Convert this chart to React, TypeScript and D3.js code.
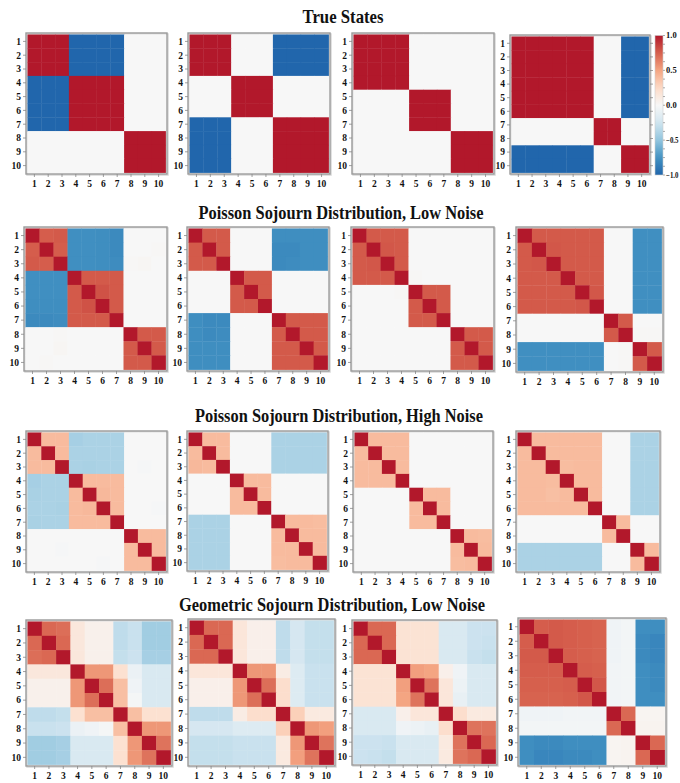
import React from "react";
import * as d3 from "d3";

// ---- data -------------------------------------------------------------

const stateLabels = ["1", "2", "3", "4", "5", "6", "7", "8", "9", "10"];

const rowTitles = [
  "True States",
  "Poisson Sojourn Distribution, Low Noise",
  "Poisson Sojourn Distribution, High Noise",
  "Geometric Sojourn Distribution, Low Noise",
];

const colorbarTicks = [1.0, 0.5, 0.0, -0.5, -1.0];

// True state correlation structures
const trueA = [
  [1, 1, 1, -1, -1, -1, -1, 0, 0, 0],
  [1, 1, 1, -1, -1, -1, -1, 0, 0, 0],
  [1, 1, 1, -1, -1, -1, -1, 0, 0, 0],
  [-1, -1, -1, 1, 1, 1, 1, 0, 0, 0],
  [-1, -1, -1, 1, 1, 1, 1, 0, 0, 0],
  [-1, -1, -1, 1, 1, 1, 1, 0, 0, 0],
  [-1, -1, -1, 1, 1, 1, 1, 0, 0, 0],
  [0, 0, 0, 0, 0, 0, 0, 1, 1, 1],
  [0, 0, 0, 0, 0, 0, 0, 1, 1, 1],
  [0, 0, 0, 0, 0, 0, 0, 1, 1, 1],
];
const trueB = [
  [1, 1, 1, 0, 0, 0, -1, -1, -1, -1],
  [1, 1, 1, 0, 0, 0, -1, -1, -1, -1],
  [1, 1, 1, 0, 0, 0, -1, -1, -1, -1],
  [0, 0, 0, 1, 1, 1, 0, 0, 0, 0],
  [0, 0, 0, 1, 1, 1, 0, 0, 0, 0],
  [0, 0, 0, 1, 1, 1, 0, 0, 0, 0],
  [-1, -1, -1, 0, 0, 0, 1, 1, 1, 1],
  [-1, -1, -1, 0, 0, 0, 1, 1, 1, 1],
  [-1, -1, -1, 0, 0, 0, 1, 1, 1, 1],
  [-1, -1, -1, 0, 0, 0, 1, 1, 1, 1],
];
const trueC = [
  [1, 1, 1, 1, 0, 0, 0, 0, 0, 0],
  [1, 1, 1, 1, 0, 0, 0, 0, 0, 0],
  [1, 1, 1, 1, 0, 0, 0, 0, 0, 0],
  [1, 1, 1, 1, 0, 0, 0, 0, 0, 0],
  [0, 0, 0, 0, 1, 1, 1, 0, 0, 0],
  [0, 0, 0, 0, 1, 1, 1, 0, 0, 0],
  [0, 0, 0, 0, 1, 1, 1, 0, 0, 0],
  [0, 0, 0, 0, 0, 0, 0, 1, 1, 1],
  [0, 0, 0, 0, 0, 0, 0, 1, 1, 1],
  [0, 0, 0, 0, 0, 0, 0, 1, 1, 1],
];
const trueD = [
  [1, 1, 1, 1, 1, 1, 0, 0, -1, -1],
  [1, 1, 1, 1, 1, 1, 0, 0, -1, -1],
  [1, 1, 1, 1, 1, 1, 0, 0, -1, -1],
  [1, 1, 1, 1, 1, 1, 0, 0, -1, -1],
  [1, 1, 1, 1, 1, 1, 0, 0, -1, -1],
  [1, 1, 1, 1, 1, 1, 0, 0, -1, -1],
  [0, 0, 0, 0, 0, 0, 1, 1, 0, 0],
  [0, 0, 0, 0, 0, 0, 1, 1, 0, 0],
  [-1, -1, -1, -1, -1, -1, 0, 0, 1, 1],
  [-1, -1, -1, -1, -1, -1, 0, 0, 1, 1],
];

// Poisson sojourn, low noise estimates
const poissonLowA = [
  [1, 0.76, 0.77, -0.77, -0.77, -0.78, -0.8, 0, 0, 0],
  [0.76, 1, 0.76, -0.77, -0.77, -0.78, -0.8, 0, 0, 0.01],
  [0.77, 0.76, 1, -0.77, -0.77, -0.78, -0.79, 0.01, 0.02, 0],
  [-0.77, -0.77, -0.77, 1, 0.77, 0.77, 0.77, 0, 0, 0],
  [-0.77, -0.77, -0.77, 0.77, 1, 0.8, 0.77, 0, 0, 0],
  [-0.78, -0.78, -0.78, 0.77, 0.8, 1, 0.77, 0, 0, 0],
  [-0.8, -0.8, -0.79, 0.77, 0.77, 0.77, 1, 0, 0, 0],
  [0, 0, 0.01, 0, 0, 0, 0, 1, 0.77, 0.77],
  [0, 0, 0.02, 0, 0, 0, 0, 0.77, 1, 0.77],
  [0, 0.01, 0, 0, 0, 0, 0, 0.77, 0.77, 1],
];
const poissonLowB = [
  [1, 0.77, 0.77, 0, 0, 0, -0.78, -0.78, -0.78, -0.78],
  [0.77, 1, 0.77, 0, 0, 0, -0.8, -0.8, -0.78, -0.78],
  [0.77, 0.77, 1, 0, 0, 0, -0.8, -0.79, -0.78, -0.78],
  [0, 0, 0, 1, 0.77, 0.77, 0, 0, 0, 0],
  [0, 0, 0, 0.77, 1, 0.77, 0, 0, 0, 0],
  [0, 0, 0, 0.77, 0.77, 1, 0, 0, 0, 0],
  [-0.78, -0.8, -0.8, 0, 0, 0, 1, 0.77, 0.77, 0.77],
  [-0.78, -0.8, -0.79, 0, 0, 0, 0.77, 1, 0.77, 0.77],
  [-0.78, -0.78, -0.78, 0, 0, 0, 0.77, 0.77, 1, 0.77],
  [-0.78, -0.78, -0.78, 0, 0, 0, 0.77, 0.77, 0.77, 1],
];
const poissonLowC = [
  [1, 0.77, 0.77, 0.77, 0, 0, 0, 0, 0, 0],
  [0.77, 1, 0.78, 0.77, 0, 0, 0, 0, 0, 0],
  [0.77, 0.78, 1, 0.77, 0, 0, 0, 0, 0, 0],
  [0.77, 0.77, 0.77, 1, 0.01, 0, 0, 0, 0, 0],
  [0, 0, 0, 0.01, 1, 0.77, 0.77, 0, 0, 0],
  [0, 0, 0, 0, 0.77, 1, 0.77, 0, 0, 0],
  [0, 0, 0, 0, 0.77, 0.77, 1, 0, 0, 0],
  [0, 0, 0, 0, 0, 0, 0, 1, 0.77, 0.77],
  [0, 0, 0, 0, 0, 0, 0, 0.77, 1, 0.77],
  [0, 0, 0, 0, 0, 0, 0, 0.77, 0.77, 1],
];
const poissonLowD = [
  [1, 0.77, 0.77, 0.77, 0.77, 0.77, 0, 0, -0.77, -0.77],
  [0.77, 1, 0.78, 0.77, 0.77, 0.77, 0, 0, -0.77, -0.77],
  [0.77, 0.78, 1, 0.77, 0.77, 0.77, 0, 0, -0.77, -0.77],
  [0.77, 0.77, 0.77, 1, 0.77, 0.77, 0, 0, -0.77, -0.77],
  [0.77, 0.77, 0.77, 0.77, 1, 0.78, 0, 0, -0.77, -0.77],
  [0.77, 0.77, 0.77, 0.77, 0.78, 1, 0, 0, -0.77, -0.77],
  [0, 0, 0, 0, 0, 0, 1, 0.77, 0, 0],
  [0, 0, 0, 0, 0, 0, 0.77, 1, 0.01, 0.01],
  [-0.77, -0.77, -0.77, -0.77, -0.77, -0.77, 0, 0.01, 1, 0.77],
  [-0.77, -0.77, -0.77, -0.77, -0.77, -0.77, 0, 0.01, 0.77, 1],
];

// Poisson sojourn, high noise estimates
const poissonHighA = [
  [1, 0.4, 0.4, -0.42, -0.4, -0.4, -0.4, 0, 0, 0],
  [0.4, 1, 0.4, -0.4, -0.4, -0.4, -0.4, 0, 0, 0],
  [0.4, 0.4, 1, -0.4, -0.41, -0.4, -0.4, 0, -0.01, 0],
  [-0.42, -0.4, -0.4, 1, 0.4, 0.4, 0.4, 0, 0, 0],
  [-0.41, -0.4, -0.4, 0.4, 1, 0.41, 0.4, 0, 0, 0],
  [-0.4, -0.4, -0.41, 0.4, 0.41, 1, 0.4, 0, 0, -0.01],
  [-0.41, -0.4, -0.4, 0.4, 0.4, 0.4, 1, 0, 0, 0],
  [0, 0, 0, 0, 0, 0, 0, 1, 0.4, 0.4],
  [0, 0, -0.01, 0, 0, 0, 0, 0.4, 1, 0.4],
  [0, 0, 0, 0, 0, -0.01, 0, 0.4, 0.4, 1],
];
const poissonHighB = [
  [1, 0.4, 0.4, 0, 0, 0, -0.4, -0.4, -0.4, -0.4],
  [0.4, 1, 0.4, 0, 0, 0, -0.4, -0.4, -0.4, -0.4],
  [0.41, 0.4, 1, 0, 0, 0, -0.4, -0.4, -0.4, -0.4],
  [0, 0, 0, 1, 0.4, 0.4, 0, 0, 0, 0],
  [0, 0, 0, 0.4, 1, 0.4, 0, 0, 0, 0],
  [0, 0, 0, 0.4, 0.4, 1, 0, 0, 0, 0],
  [-0.4, -0.4, -0.4, 0, 0, 0, 1, 0.4, 0.4, 0.39],
  [-0.4, -0.4, -0.4, 0, 0, 0, 0.4, 1, 0.4, 0.4],
  [-0.4, -0.4, -0.4, 0, 0, 0, 0.4, 0.4, 1, 0.4],
  [-0.4, -0.4, -0.4, 0, 0, 0, 0.39, 0.4, 0.4, 1],
];
const poissonHighC = [
  [1, 0.4, 0.4, 0.4, 0, 0, 0, 0, 0, 0],
  [0.4, 1, 0.4, 0.4, 0, 0, 0, 0, 0, 0],
  [0.4, 0.4, 1, 0.4, 0, 0, 0, 0, 0, 0],
  [0.4, 0.4, 0.4, 1, 0, 0, 0, 0, 0, 0],
  [0, 0, 0, 0, 1, 0.4, 0.4, 0, 0, 0],
  [0, 0, 0, 0, 0.4, 1, 0.4, 0, 0, 0],
  [0, 0, 0, 0, 0.4, 0.4, 1, 0, 0, 0],
  [0, 0, 0, 0, 0, 0, 0, 1, 0.4, 0.39],
  [0, 0, 0, 0, 0, 0, 0, 0.4, 1, 0.4],
  [0, 0, 0, 0, 0, 0, 0, 0.39, 0.4, 1],
];
const poissonHighD = [
  [1, 0.4, 0.4, 0.4, 0.4, 0.4, 0, 0, -0.4, -0.4],
  [0.4, 1, 0.4, 0.4, 0.4, 0.4, 0, 0, -0.4, -0.4],
  [0.4, 0.4, 1, 0.39, 0.4, 0.4, 0, 0, -0.4, -0.4],
  [0.4, 0.4, 0.39, 1, 0.4, 0.4, 0, 0, -0.4, -0.4],
  [0.4, 0.4, 0.38, 0.4, 1, 0.4, 0, 0, -0.4, -0.4],
  [0.4, 0.4, 0.4, 0.4, 0.4, 1, 0, 0, -0.4, -0.4],
  [0, 0, 0, 0, 0, 0, 1, 0.4, 0, 0],
  [0, 0, 0, 0, 0, 0, 0.4, 1, 0, 0],
  [-0.4, -0.4, -0.4, -0.4, -0.4, -0.4, 0, 0, 1, 0.4],
  [-0.4, -0.4, -0.4, -0.4, -0.4, -0.4, 0, 0, 0.4, 1],
];

// Geometric sojourn, low noise estimates
const geometricLowA = [
  [1, 0.72, 0.7, 0.14, 0.06, 0.06, -0.32, -0.28, -0.44, -0.44],
  [0.72, 1, 0.72, 0.14, 0.06, 0.06, -0.32, -0.28, -0.44, -0.44],
  [0.7, 0.72, 1, 0.14, 0.06, 0.06, -0.3, -0.27, -0.42, -0.42],
  [0.14, 0.14, 0.14, 1, 0.55, 0.55, 0.2, -0.08, -0.2, -0.2],
  [0.06, 0.06, 0.06, 0.55, 1, 0.7, 0.38, -0.05, -0.2, -0.2],
  [0.06, 0.06, 0.06, 0.55, 0.7, 1, 0.38, -0.02, -0.2, -0.2],
  [-0.32, -0.32, -0.3, 0.2, 0.38, 0.38, 1, 0.38, 0.2, 0.2],
  [-0.28, -0.28, -0.27, -0.08, -0.05, -0.02, 0.38, 1, 0.55, 0.55],
  [-0.44, -0.44, -0.42, -0.2, -0.2, -0.2, 0.2, 0.55, 1, 0.68],
  [-0.44, -0.44, -0.42, -0.2, -0.2, -0.2, 0.2, 0.55, 0.68, 1],
];
const geometricLowB = [
  [1, 0.72, 0.72, 0.15, 0.07, 0.07, -0.32, -0.22, -0.3, -0.3],
  [0.72, 1, 0.72, 0.15, 0.07, 0.07, -0.32, -0.22, -0.3, -0.3],
  [0.72, 0.72, 1, 0.15, 0.07, 0.07, -0.32, -0.22, -0.3, -0.3],
  [0.15, 0.15, 0.15, 1, 0.55, 0.55, 0.1, -0.17, -0.28, -0.28],
  [0.07, 0.07, 0.07, 0.55, 1, 0.7, 0.22, -0.17, -0.28, -0.28],
  [0.07, 0.07, 0.07, 0.55, 0.7, 1, 0.22, -0.17, -0.28, -0.28],
  [-0.32, -0.32, -0.32, 0.1, 0.22, 0.22, 1, 0.3, 0.12, 0.12],
  [-0.22, -0.22, -0.22, -0.17, -0.17, -0.17, 0.3, 1, 0.55, 0.52],
  [-0.3, -0.3, -0.3, -0.28, -0.28, -0.28, 0.12, 0.55, 1, 0.68],
  [-0.3, -0.3, -0.3, -0.28, -0.28, -0.28, 0.12, 0.52, 0.68, 1],
];
const geometricLowC = [
  [1, 0.72, 0.72, 0.18, 0.18, 0.18, -0.2, -0.2, -0.27, -0.27],
  [0.72, 1, 0.72, 0.18, 0.18, 0.18, -0.2, -0.2, -0.27, -0.28],
  [0.72, 0.72, 1, 0.18, 0.18, 0.18, -0.2, -0.2, -0.28, -0.3],
  [0.18, 0.18, 0.18, 1, 0.52, 0.5, 0.07, -0.05, -0.2, -0.2],
  [0.18, 0.18, 0.18, 0.52, 1, 0.68, 0.15, -0.07, -0.2, -0.2],
  [0.18, 0.18, 0.18, 0.5, 0.68, 1, 0.15, -0.1, -0.2, -0.2],
  [-0.2, -0.2, -0.2, 0.07, 0.15, 0.15, 1, 0.22, 0.12, 0.12],
  [-0.2, -0.2, -0.2, -0.05, -0.07, -0.1, 0.22, 1, 0.68, 0.68],
  [-0.27, -0.27, -0.28, -0.2, -0.2, -0.2, 0.12, 0.68, 1, 0.72],
  [-0.27, -0.28, -0.3, -0.2, -0.2, -0.2, 0.12, 0.68, 0.72, 1],
];
const geometricLowD = [
  [1, 0.76, 0.77, 0.76, 0.75, 0.74, -0.05, -0.03, -0.78, -0.78],
  [0.76, 1, 0.77, 0.76, 0.75, 0.74, -0.05, -0.03, -0.8, -0.82],
  [0.77, 0.77, 1, 0.76, 0.75, 0.74, -0.05, -0.03, -0.8, -0.82],
  [0.76, 0.76, 0.76, 1, 0.76, 0.75, -0.04, -0.03, -0.78, -0.8],
  [0.75, 0.75, 0.75, 0.76, 1, 0.78, -0.04, -0.03, -0.78, -0.8],
  [0.74, 0.74, 0.74, 0.75, 0.78, 1, -0.04, -0.03, -0.78, -0.78],
  [-0.05, -0.05, -0.05, -0.04, -0.04, -0.04, 1, 0.72, 0.03, 0.03],
  [-0.03, -0.03, -0.03, -0.03, -0.03, -0.03, 0.72, 1, 0.04, 0.04],
  [-0.78, -0.8, -0.8, -0.78, -0.78, -0.78, 0.03, 0.04, 1, 0.72],
  [-0.78, -0.82, -0.82, -0.8, -0.8, -0.78, 0.03, 0.04, 0.72, 1],
];

const matrixRows = [
  [trueA, trueB, trueC, trueD],
  [poissonLowA, poissonLowB, poissonLowC, poissonLowD],
  [poissonHighA, poissonHighB, poissonHighC, poissonHighD],
  [geometricLowA, geometricLowB, geometricLowC, geometricLowD],
];

// ---- layout -----------------------------------------------------------

type Box = { x0: number; x1: number; y0: number; y1: number };

const rowLayout: { titleX: number; titleY: number; titleW: number; panels: Box[] }[] = [
  {
    titleX: 343, titleY: 22.5, titleW: 81,
    panels: [
      { x0: 26, x1: 167, y0: 33, y1: 174 },
      { x0: 188, x1: 330, y0: 33, y1: 174 },
      { x0: 352, x1: 494, y0: 33, y1: 174 },
      { x0: 510, x1: 650, y0: 35, y1: 174 },
    ],
  },
  {
    titleX: 341, titleY: 219, titleW: 285,
    panels: [
      { x0: 24, x1: 167, y0: 227, y1: 371 },
      { x0: 187, x1: 329, y0: 227, y1: 371 },
      { x0: 351, x1: 494, y0: 227, y1: 371 },
      { x0: 516, x1: 663, y0: 227, y1: 372 },
    ],
  },
  {
    titleX: 339, titleY: 421.5, titleW: 288,
    panels: [
      { x0: 26, x1: 167, y0: 431, y1: 572 },
      { x0: 187, x1: 328, y0: 431, y1: 571 },
      { x0: 353, x1: 493, y0: 431, y1: 572 },
      { x0: 516, x1: 660, y0: 431, y1: 572 },
    ],
  },
  {
    titleX: 332, titleY: 611, titleW: 306,
    panels: [
      { x0: 26, x1: 172, y0: 620, y1: 766 },
      { x0: 188, x1: 335, y0: 619, y1: 766 },
      { x0: 352, x1: 497, y0: 620, y1: 765 },
      { x0: 518, x1: 666, y0: 618, y1: 766 },
    ],
  },
];

const colorbarBox = { x0: 655, x1: 663, y0: 35.5, y1: 175 };

const FONT = "'Liberation Serif', 'Times New Roman', serif";

// Diverging red-blue palette, -1 (blue) .. +1 (red)
const rdbu = d3.schemeRdBu[9].slice().reverse();
const color = d3
  .scaleLinear<string>()
  .domain(d3.range(9).map((i) => -1 + i * 0.25))
  .range(rdbu)
  .interpolate(d3.interpolateRgb)
  .clamp(true);

function Heatmap({ box, matrix, rightTicks }: { box: Box; matrix: number[][]; rightTicks?: boolean }) {
  const inset = 1.5;
  const x = d3.scaleBand<string>().domain(stateLabels).range([box.x0 + inset, box.x1 - inset]);
  const y = d3.scaleBand<string>().domain(stateLabels).range([box.y0 + inset, box.y1 - inset]);
  const bw = x.bandwidth();
  const bh = y.bandwidth();
  return (
    <g>
      <rect
        x={box.x0 + 1}
        y={box.y0 + 1}
        width={box.x1 - box.x0}
        height={box.y1 - box.y0}
        fill="none"
        stroke="#d8d8d8"
        strokeWidth={1.5}
      />
      {matrix.map((row, i) =>
        row.map((v, j) => (
          <rect
            key={`${i}-${j}`}
            x={x(stateLabels[j])!}
            y={y(stateLabels[i])!}
            width={bw + 0.4}
            height={bh + 0.4}
            fill={color(v)}
          />
        ))
      )}
      <rect
        x={box.x0}
        y={box.y0}
        width={box.x1 - box.x0}
        height={box.y1 - box.y0}
        fill="none"
        stroke="#9a9a9a"
        strokeWidth={1.4}
      />
      {stateLabels.map((s) => {
        const cy = y(s)! + bh / 2;
        const cx = x(s)! + bw / 2;
        return (
          <g key={s}>
            <line x1={box.x0 - 3} x2={box.x0} y1={cy} y2={cy} stroke="#888" strokeWidth={0.8} />
            <line x1={cx} x2={cx} y1={box.y1} y2={box.y1 + 3} stroke="#888" strokeWidth={0.8} />
            {rightTicks && (
              <line x1={box.x1} x2={box.x1 + 3} y1={cy} y2={cy} stroke="#888" strokeWidth={0.8} />
            )}
            <text
              x={box.x0 - 5}
              y={cy}
              dy="0.35em"
              textAnchor="end"
              fontFamily={FONT}
              fontWeight="bold"
              fontSize={9.5}
              fill="#111"
            >
              {s}
            </text>
            <text
              x={cx}
              y={box.y1 + 12.5}
              textAnchor="middle"
              fontFamily={FONT}
              fontWeight="bold"
              fontSize={9.5}
              fill="#111"
            >
              {s}
            </text>
          </g>
        );
      })}
    </g>
  );
}

function Colorbar() {
  const { x0, x1, y0, y1 } = colorbarBox;
  const scale = d3.scaleLinear().domain([-1, 1]).range([y1, y0]);
  const stops = d3.range(0, 1.0001, 0.05);
  return (
    <g>
      <defs>
        <linearGradient id="cbar" x1="0" y1="1" x2="0" y2="0">
          {stops.map((t) => (
            <stop key={t} offset={t} stopColor={color(-1 + 2 * t)} />
          ))}
        </linearGradient>
      </defs>
      <rect x={x0} y={y0} width={x1 - x0} height={y1 - y0} fill="url(#cbar)" stroke="#ccc" strokeWidth={0.6} />
      {d3.range(-1, 1.0001, 0.125).map((v) => (
        <line key={v} x1={x1} x2={x1 + 2} y1={scale(v)} y2={scale(v)} stroke="#888" strokeWidth={0.7} />
      ))}
      {colorbarTicks.map((v) => {
        const label = d3.format(".1f")(v);
        return (
          <text
            key={v}
            x={x1 + 3}
            y={scale(v)}
            dy="0.35em"
            fontFamily={FONT}
            fontWeight="bold"
            fontSize={8.5}
            textLength={v < 0 ? 12.5 : undefined}
            lengthAdjust="spacingAndGlyphs"
            fill="#111"
          >
            {label}
          </text>
        );
      })}
    </g>
  );
}

export default function App() {
  return (
    <svg
      width={680}
      height={783}
      viewBox="0 0 680 783"
      style={{ position: "absolute", left: 0, top: 0, background: "#fff" }}
    >
      <rect width={680} height={783} fill="#fff" />
      {rowLayout.map((row, r) => (
        <g key={r}>
          <text
            x={row.titleX}
            y={row.titleY}
            textAnchor="middle"
            fontFamily={FONT}
            fontWeight="bold"
            fontSize={18.5}
            textLength={row.titleW}
            lengthAdjust="spacingAndGlyphs"
            fill="#111"
          >
            {rowTitles[r]}
          </text>
          {row.panels.map((box, c) => (
            <Heatmap key={c} box={box} matrix={matrixRows[r][c]} rightTicks={r === 0 && c === 3} />
          ))}
        </g>
      ))}
      <Colorbar />
    </svg>
  );
}
